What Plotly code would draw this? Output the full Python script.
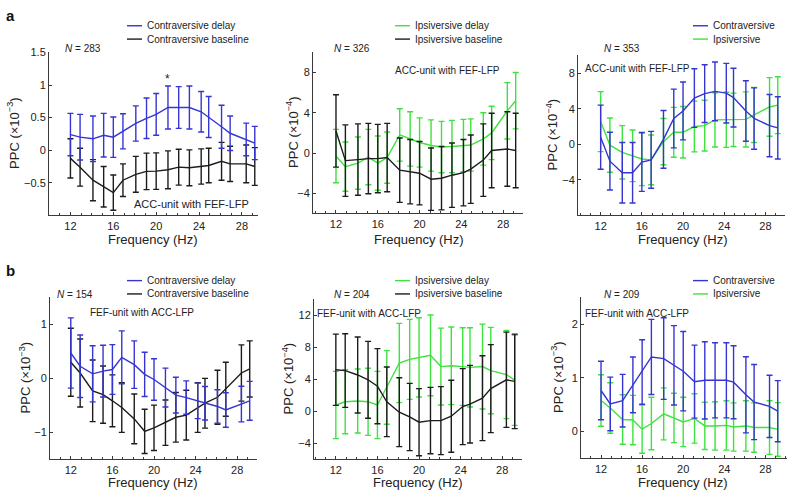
import plotly.graph_objects as go

# ---------------- data ----------------
freqs = [12, 12.9, 14.1, 15.1, 16.0, 16.9, 18.1, 19.1, 20.0, 21.1, 22.1, 23.1, 24.2, 24.9, 26.1, 26.9, 28.4, 29.2]

# panel a (ACC-unit with FEF-LFP)
a1_contra_delay = [0.24, 0.20, 0.175, 0.23, 0.20, 0.29, 0.41, 0.49, 0.55, 0.655, 0.655, 0.655, 0.59, 0.51, 0.36, 0.26, 0.165, 0.11]
a1_contra_delay_err = [0.325, 0.35, 0.35, 0.335, 0.31, 0.27, 0.27, 0.31, 0.32, 0.33, 0.32, 0.33, 0.31, 0.315, 0.33, 0.265, 0.25, 0.255]
a1_contra_base = [-0.125, -0.26, -0.46, -0.56, -0.65, -0.46, -0.37, -0.325, -0.32, -0.30, -0.26, -0.27, -0.25, -0.235, -0.17, -0.21, -0.21, -0.25]
a1_contra_base_err = [0.3, 0.29, 0.315, 0.31, 0.27, 0.25, 0.275, 0.28, 0.28, 0.29, 0.275, 0.275, 0.27, 0.265, 0.29, 0.27, 0.29, 0.29]

a2_ipsi_delay = [-0.3, -1.35, -1.0, -0.4, -1.0, -0.45, 1.8, 1.4, 1.05, 0.75, 0.6, 0.65, 0.75, 0.8, 1.4, 2.0, 4.2, 5.2]
a2_ipsi_delay_err = [2.65, 2.45, 2.6, 2.75, 2.7, 2.55, 2.6, 2.7, 2.45, 2.55, 2.55, 2.6, 2.6, 2.6, 2.6, 2.65, 2.8, 2.8]
a2_ipsi_base = [2.2, -0.75, -0.65, -0.55, -0.55, -0.45, -1.7, -1.85, -2.0, -2.6, -2.5, -2.2, -1.95, -1.6, -0.7, 0.25, 0.4, 0.25]
a2_ipsi_base_err = [3.6, 3.55, 3.55, 3.5, 3.4, 3.4, 3.2, 3.2, 3.15, 3.1, 3.15, 3.2, 3.3, 3.4, 3.6, 3.7, 3.7, 3.7]

a3_contra = [0.8, -1.9, -3.2, -3.2, -2.0, -1.75, 0.55, 2.9, 3.75, 5.2, 5.7, 5.95, 5.75, 5.25, 3.75, 2.9, 2.1, 1.85]
a3_contra_err = [3.6, 3.25, 3.4, 3.4, 3.3, 3.2, 3.25, 3.3, 3.25, 3.3, 3.25, 3.3, 3.35, 3.3, 3.4, 3.45, 3.5, 3.5]
a3_ipsi = [2.55, -0.1, -0.9, -1.3, -1.65, -1.75, 0.3, 1.35, 1.35, 2.0, 2.1, 2.75, 2.75, 2.75, 2.8, 3.3, 4.2, 4.4]
a3_ipsi_err = [3.37, 3.05, 3.0, 2.9, 3.0, 2.8, 2.6, 2.8, 2.9, 2.85, 2.85, 3.05, 3.1, 3.0, 3.1, 3.1, 3.3, 3.2]

# panel b (FEF-unit with ACC-LFP)
b1_contra_delay = [0.47, 0.225, 0.085, 0.135, 0.165, 0.39, 0.255, 0.075, -0.02, -0.17, -0.31, -0.355, -0.415, -0.46, -0.52, -0.585, -0.475, -0.415]
b1_contra_delay_err = [0.65, 0.58, 0.52, 0.48, 0.46, 0.49, 0.44, 0.41, 0.385, 0.36, 0.33, 0.31, 0.33, 0.31, 0.31, 0.32, 0.33, 0.36]
b1_contra_base = [0.3, 0.1, -0.23, -0.3, -0.415, -0.54, -0.75, -0.98, -0.915, -0.82, -0.72, -0.68, -0.54, -0.46, -0.35, -0.2, 0.1, 0.175]
b1_contra_base_err = [0.63, 0.63, 0.57, 0.53, 0.48, 0.46, 0.46, 0.41, 0.42, 0.42, 0.46, 0.46, 0.46, 0.46, 0.5, 0.5, 0.52, 0.52]

b2_ipsi_delay = [0.8, 1.2, 1.3, 1.2, 0.8, 3.0, 6.05, 6.5, 6.75, 7.0, 5.6, 5.7, 5.6, 5.5, 5.6, 5.1, 4.6, 3.9]
b2_ipsi_delay_err = [4.2, 4.0, 4.0, 4.2, 4.2, 4.6, 4.95, 5.0, 4.95, 5.05, 4.8, 4.85, 4.85, 4.95, 5.3, 5.4, 5.5, 5.65]
b2_ipsi_base = [5.2, 5.1, 4.55, 3.95, 3.15, 1.2, -0.1, -0.7, -1.35, -1.15, -1.15, -0.6, 0.6, 0.9, 1.65, 2.85, 3.95, 3.75]
b2_ipsi_base_err = [4.45, 4.6, 4.75, 4.8, 4.7, 4.35, 4.3, 4.2, 4.2, 4.15, 4.25, 4.5, 4.75, 4.85, 5.3, 5.5, 5.95, 5.9]

b3_contra = [0.765, 0.515, 0.575, 0.87, 1.11, 1.39, 1.36, 1.235, 1.125, 0.93, 0.955, 0.955, 0.955, 0.92, 0.685, 0.55, 0.47, 0.38]
b3_contra_err = [0.545, 0.5, 0.49, 0.52, 0.6, 0.7, 0.76, 0.74, 0.74, 0.68, 0.72, 0.7, 0.7, 0.68, 0.71, 0.7, 0.58, 0.57]
b3_ipsi = [0.58, 0.44, 0.225, 0.215, 0.045, 0.15, 0.33, 0.255, 0.18, 0.245, 0.105, 0.105, 0.115, 0.085, 0.105, 0.075, 0.075, 0.04]
b3_ipsi_err = [0.48, 0.47, 0.46, 0.46, 0.45, 0.49, 0.485, 0.46, 0.46, 0.46, 0.44, 0.45, 0.46, 0.45, 0.47, 0.46, 0.5, 0.5]

x_ticks = [12, 16, 20, 24, 28]
star_freq = 21.1
star_level = 1.1

# ---------------- style ----------------
W, H = 788, 491
BLUE = "#3535d2"
GREEN = "#3ee23e"
BLACK = "#1c1c1c"
AXC = "#3a3a3a"
FONT = "Liberation Sans, Arial, sans-serif"

def px(x):
    return x / W

def py(y):
    return 1 - y / H

fig = go.Figure()

panels = [
    dict(k="", xd=(49, 258), yd=(47, 212), xr=[10, 29.5], yr=[-1, 1.5], yt=[-0.5, 0, 0.5, 1, 1.5],
         yttext=["\u22120.5", "0", "0.5", "1", "1.5"], exp="\u22123",
         series=[(a1_contra_base, a1_contra_base_err, BLACK, "Contraversive baseline"),
                 (a1_contra_delay, a1_contra_delay_err, BLUE, "Contraversive delay")],
         leg=[("Contraversive delay", BLUE), ("Contraversive baseline", BLACK)], legx=127, legy=20,
         N="283", Nx=63, Ny=43, lab="ACC-unit with FEF-LFP", labx=191, laby=200, labsize=11,
         ytx=13, fx=153, fy=236),
    dict(k="2", xd=(313, 523), yd=(47, 210), xr=[9.8, 29.9], yr=[-6, 10], yt=[-4, 0, 4, 8],
         yttext=["\u22124", "0", "4", "8"], exp="\u22124",
         series=[(a2_ipsi_delay, a2_ipsi_delay_err, GREEN, "Ipsiversive delay"),
                 (a2_ipsi_base, a2_ipsi_base_err, BLACK, "Ipsiversive baseline")],
         leg=[("Ipsiversive delay", GREEN), ("Ipsiversive baseline", BLACK)], legx=395, legy=20,
         N="326", Nx=332, Ny=43, lab="ACC-unit with FEF-LFP", labx=447, laby=65, labsize=10,
         ytx=292, fx=419, fy=236),
    dict(k="3", xd=(578, 785), yd=(50, 212), xr=[9.8, 29.9], yr=[-8, 10], yt=[-4, 0, 4, 8],
         yttext=["\u22124", "0", "4", "8"], exp="\u22124",
         series=[(a3_ipsi, a3_ipsi_err, GREEN, "Ipsiversive"),
                 (a3_contra, a3_contra_err, BLUE, "Contraversive")],
         leg=[("Contraversive", BLUE), ("Ipsiversive", GREEN)], legx=693, legy=20,
         N="353", Nx=602, Ny=43, lab="ACC-unit with FEF-LFP", labx=637, laby=63, labsize=10,
         ytx=552, fx=683, fy=236),
    dict(k="4", xd=(50, 257), yd=(295, 459), xr=[10, 29.9], yr=[-1.5, 1.5], yt=[-1, 0, 1],
         yttext=["\u22121", "0", "1"], exp="\u22123",
         series=[(b1_contra_base, b1_contra_base_err, BLACK, "Contraversive baseline"),
                 (b1_contra_delay, b1_contra_delay_err, BLUE, "Contraversive delay")],
         leg=[("Contraversive delay", BLUE), ("Contraversive baseline", BLACK)], legx=127, legy=278,
         N="154", Nx=55, Ny=292, lab="FEF-unit with ACC-LFP", labx=142, laby=310, labsize=10,
         ytx=25, fx=153, fy=482),
    dict(k="5", xd=(314, 522), yd=(297, 459), xr=[9.9, 29.9], yr=[-6, 14], yt=[-4, 0, 4, 8, 12],
         yttext=["\u22124", "0", "4", "8", "12"], exp="\u22124",
         series=[(b2_ipsi_delay, b2_ipsi_delay_err, GREEN, "Ipsiversive delay"),
                 (b2_ipsi_base, b2_ipsi_base_err, BLACK, "Ipsiversive baseline")],
         leg=[("Ipsiversive delay", GREEN), ("Ipsiversive baseline", BLACK)], legx=395, legy=278,
         N="204", Nx=332, Ny=292, lab="FEF-unit with ACC-LFP", labx=369, laby=311, labsize=10,
         ytx=288, fx=418, fy=482),
    dict(k="6", xd=(581, 787), yd=(295, 458), xr=[10.05, 30.1], yr=[-0.5, 2.5], yt=[0, 1, 2],
         yttext=["0", "1", "2"], exp="\u22123",
         series=[(b3_ipsi, b3_ipsi_err, GREEN, "Ipsiversive"),
                 (b3_contra, b3_contra_err, BLUE, "Contraversive")],
         leg=[("Contraversive", BLUE), ("Ipsiversive", GREEN)], legx=693, legy=278,
         N="209", Nx=602, Ny=292, lab="FEF-unit with ACC-LFP", labx=637, laby=311, labsize=10,
         ytx=557, fx=683, fy=482),
]

annotations = []
shapes = []

for p in panels:
    k = p["k"]
    xa = "x" + k
    ya = "y" + k
    for vals, err, col, name in p["series"]:
        fig.add_trace(go.Scatter(
            x=freqs, y=vals, mode="lines", name=name, showlegend=False,
            xaxis=xa, yaxis=ya,
            line=dict(color=col, width=1.4),
            error_y=dict(type="data", array=err, visible=True, color=col, thickness=1.4, width=3),
        ))
    axis_common = dict(showline=True, linecolor=AXC, linewidth=1, ticks="inside", ticklen=3,
                       tickcolor=AXC, showgrid=False, zeroline=False,
                       tickfont=dict(family=FONT, size=11, color="#222"))
    fig.layout["xaxis" + k] = dict(axis_common, domain=[px(p["xd"][0]), px(p["xd"][1])],
                                   range=p["xr"], tickvals=x_ticks, anchor=ya,
                                   minor=dict(ticks="inside", ticklen=2, dtick=1, tickcolor=AXC))
    fig.layout["yaxis" + k] = dict(axis_common, domain=[py(p["yd"][1]), py(p["yd"][0])],
                                   range=p["yr"], tickvals=p["yt"], ticktext=p["yttext"], anchor=xa)
    yc = (p["yd"][0] + p["yd"][1]) / 2
    annotations.append(dict(x=px(p["ytx"]), y=py(yc), xref="paper", yref="paper",
                            text="PPC (\u00d710<sup>" + p["exp"] + "</sup>)", textangle=-90,
                            showarrow=False, xanchor="center", yanchor="middle",
                            font=dict(family=FONT, size=13, color="#222")))
    annotations.append(dict(x=px(p["fx"]), y=py(p["fy"]), xref="paper", yref="paper",
                            text="Frequency (Hz)", showarrow=False, xanchor="center", yanchor="middle",
                            font=dict(family=FONT, size=13, color="#222")))
    annotations.append(dict(x=px(p["Nx"]), y=py(p["Ny"]), xref="paper", yref="paper",
                            text="<i>N</i> = " + p["N"], showarrow=False, xanchor="left", yanchor="middle",
                            font=dict(family=FONT, size=10, color="#222")))
    annotations.append(dict(x=px(p["labx"]), y=py(p["laby"]), xref="paper", yref="paper",
                            text=p["lab"], showarrow=False, xanchor="center", yanchor="middle",
                            font=dict(family=FONT, size=p["labsize"], color="#222")))
    for i, (txt, col) in enumerate(p["leg"]):
        yy = p["legy"] + i * 13.5
        shapes.append(dict(type="line", xref="paper", yref="paper",
                           x0=px(p["legx"]), x1=px(p["legx"] + 15), y0=py(yy), y1=py(yy),
                           line=dict(color=col, width=1.4)))
        annotations.append(dict(x=px(p["legx"] + 18), y=py(yy), xref="paper", yref="paper",
                                text=txt, showarrow=False, xanchor="left", yanchor="middle",
                                font=dict(family=FONT, size=10, color="#222")))

annotations.append(dict(x=star_freq, y=star_level, xref="x", yref="y", text="*", showarrow=False,
                        font=dict(family=FONT, size=12, color="#222")))
annotations.append(dict(x=px(4), y=py(10), xref="paper", yref="paper", text="<b>a</b>", showarrow=False,
                        xanchor="left", yanchor="middle", font=dict(family=FONT, size=15, color="#111")))
annotations.append(dict(x=px(4), y=py(268), xref="paper", yref="paper", text="<b>b</b>", showarrow=False,
                        xanchor="left", yanchor="middle", font=dict(family=FONT, size=15, color="#111")))

fig.update_layout(
    width=W, height=H, margin=dict(l=0, r=0, t=0, b=0),
    paper_bgcolor="white", plot_bgcolor="white",
    showlegend=False, annotations=annotations, shapes=shapes,
    font=dict(family=FONT),
)

fig.write_html("out.html", config={"displayModeBar": False},
               post_script="document.body.style.margin='0';document.body.style.overflow='hidden';")
